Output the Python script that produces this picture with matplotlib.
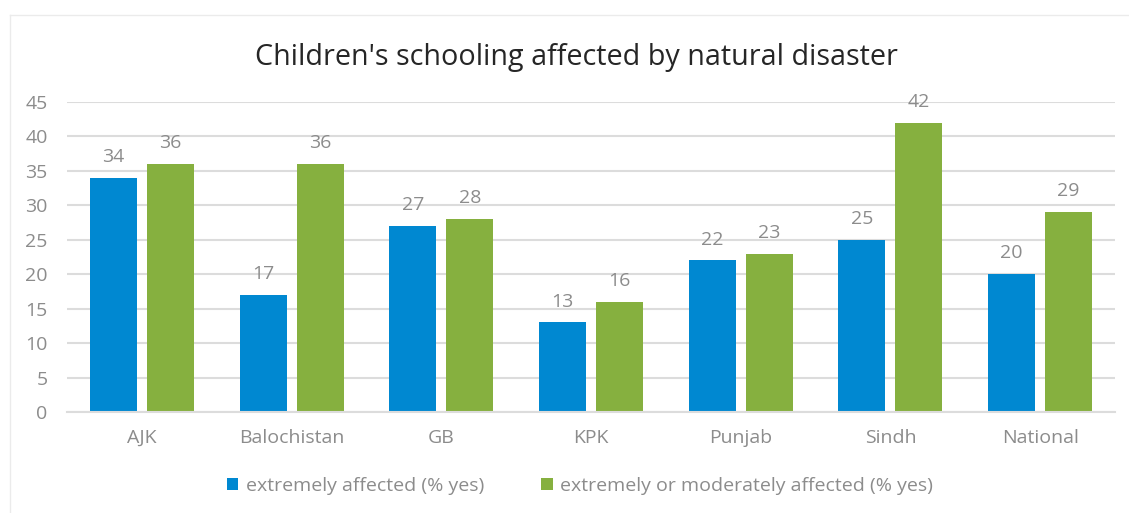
import matplotlib
matplotlib.use("Agg")
import matplotlib.pyplot as plt
import numpy as np
from matplotlib.lines import Line2D
from matplotlib.patches import Patch

categories = ["AJK", "Balochistan", "GB", "KPK", "Punjab", "Sindh", "National"]
extremely = [34, 17, 27, 13, 22, 25, 20]
extreme_or_moderate = [36, 36, 28, 16, 23, 42, 29]
series_names = ["extremely affected (% yes)", "extremely or moderately affected (% yes)"]
y_ticks = [0, 5, 10, 15, 20, 25, 30, 35, 40, 45]
title = "Children's schooling affected by natural disaster"

blue = "#0088D1"
green = "#86B03F"
text_gray = "#8C8C8C"
grid_gray = "#DCDCDC"
fs = 14

plt.rcParams["font.family"] = ["Open Sans", "DejaVu Sans"]

fig = plt.figure(figsize=(11.29, 5.13), dpi=100)
ax = fig.add_axes([67 / 1129, 101 / 513, (1115 - 67) / 1129, 310 / 513])

x = np.arange(len(categories))
w = 0.314
off = 0.19
b1 = ax.bar(x - off, extremely, w, color=blue, zorder=3)
b2 = ax.bar(x + off, extreme_or_moderate, w, color=green, zorder=3)

for bars, vals in ((b1, extremely), (b2, extreme_or_moderate)):
    for rect, v in zip(bars, vals):
        ax.annotate(str(v), (rect.get_x() + rect.get_width() / 2, v),
                    xytext=(0, 15), textcoords="offset points",
                    ha="center", va="center", fontsize=fs, color=text_gray)

ax.set_xlim(-0.5, len(categories) - 0.5)
ax.set_ylim(0, 45)
ax.set_yticks(y_ticks)
ax.set_xticks(x)
ax.set_xticklabels(categories)
ax.tick_params(axis="both", length=0, labelsize=fs, labelcolor=text_gray)
ax.tick_params(axis="x", pad=12)
ax.tick_params(axis="y", pad=14)

ax.grid(axis="y", color=grid_gray, linewidth=1.5, zorder=0)
for s in ("top", "right", "left"):
    ax.spines[s].set_visible(False)
ax.spines["bottom"].set_color(grid_gray)
ax.spines["bottom"].set_linewidth(1.5)
ax.spines["bottom"].set_zorder(4)

fig.text(576 / 1129, 1 - 57 / 513, title, ha="center", va="center",
         fontsize=20.7, color="#262626")

handles = [Patch(facecolor=blue), Patch(facecolor=green)]
fig.legend(handles, series_names, loc="center", bbox_to_anchor=(580 / 1129, 1 - 486 / 513),
           ncol=2, frameon=False, fontsize=fs, labelcolor=text_gray,
           handlelength=0.6, handleheight=0.6, handletextpad=0.4, columnspacing=2.9)

# faint chart-area border along the top and left edges
fig.add_artist(Line2D([10 / 1129, 10 / 1129], [0, 1 - 15 / 513], transform=fig.transFigure,
                      color="#EBEBEB", linewidth=1))
fig.add_artist(Line2D([10 / 1129, 1], [1 - 15 / 513, 1 - 15 / 513], transform=fig.transFigure,
                      color="#EBEBEB", linewidth=1))

fig.savefig("out.png", dpi=100, facecolor="white")
